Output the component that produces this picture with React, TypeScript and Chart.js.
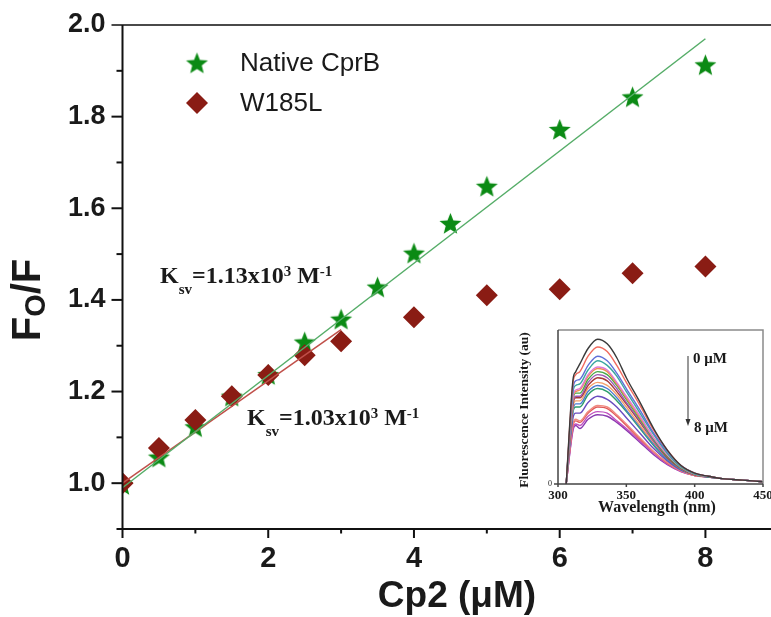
import React, { useEffect, useRef } from 'react';
import { Chart, registerables } from 'chart.js';

Chart.register(...registerables);

// ---------- main plot data ----------
const nativeConc = [0, 0.5, 1, 1.5, 2, 2.5, 3, 3.5, 4, 4.5, 5, 6, 7, 8];
const nativeFF = [0.997, 1.057, 1.123, 1.19, 1.237, 1.308, 1.358, 1.428, 1.502, 1.567, 1.648, 1.772, 1.843, 1.913];
const w185lConc = [0, 0.5, 1, 1.5, 2, 2.5, 3, 4, 5, 6, 7, 8];
const w185lFF = [1.0, 1.077, 1.138, 1.19, 1.236, 1.279, 1.31, 1.362, 1.41, 1.423, 1.458, 1.473];
const nativeFitX = [0, 8];
const nativeFitY = [0.99, 1.97];
const w185lFitX = [0, 3];
const w185lFitY = [1.0, 1.335];
const xTickValues = [0, 2, 4, 6, 8];
const yTickValues = [1.0, 1.2, 1.4, 1.6, 1.8, 2.0];
const legendLabels = ['Native CprB', 'W185L'];

// ---------- inset spectra data ----------
const wavelengths = [306, 311, 313, 316, 322, 329, 336, 343, 350, 360, 370, 380, 390, 400, 410, 420, 435, 450];
const spectra = [
  [0, 68, 73, 78, 88, 94, 91, 82, 69, 53, 36, 22, 12, 7, 5, 3.5, 2.5, 1.5],
  [0, 66, 71, 73, 83, 89, 86, 77, 66, 51, 35, 22, 12, 7, 5, 3.5, 2.5, 1.5],
  [0, 62, 67, 68, 77, 83, 80, 72, 62, 48, 33, 21, 12, 7, 5, 3.5, 2.5, 1.5],
  [0, 60, 64, 65, 74, 80, 77, 70, 60, 46, 32, 20, 11, 6.5, 5, 3.5, 2.5, 1.5],
  [0, 57, 61, 62, 71, 76, 74, 66, 57, 44, 30, 19, 11, 6.5, 5, 3.5, 2.5, 1.5],
  [0, 56, 60, 61, 70, 75, 73, 65, 56, 43, 30, 19, 11, 6.5, 5, 3.5, 2.5, 1.5],
  [0, 55, 59, 59, 68, 73, 71, 64, 55, 42, 29, 18, 10.5, 6.5, 5, 3.5, 2.5, 1.5],
  [0, 53, 57, 57, 66, 71, 69, 62, 53, 41, 28, 18, 10.5, 6.5, 5, 3.5, 2.5, 1.5],
  [0, 52, 56, 56, 64, 69, 67, 60, 52, 40, 28, 17, 10, 6, 5, 3.5, 2.5, 1.5],
  [0, 50, 54, 54, 62, 66, 64, 58, 50, 38, 27, 17, 10, 6, 5, 3.5, 2.5, 1.5],
  [0, 48, 52, 52, 60, 64, 62, 56, 48, 37, 26, 16, 9.5, 6, 5, 3.5, 2.5, 1.5],
  [0, 47, 50, 50, 58, 62, 60, 54, 47, 36, 25, 16, 9.5, 6, 4.5, 3.5, 2.5, 1.5],
  [0, 43, 46, 46, 53, 57, 55, 50, 43, 33, 23, 15, 9, 6, 4.5, 3.5, 2.5, 1.5],
  [0, 39, 42, 41, 47, 51, 50, 45, 39, 30, 21, 14, 8.5, 5.5, 4.5, 3.5, 2.5, 1.5],
  [0, 38, 41, 40, 46, 50, 49, 44, 38, 29, 21, 13.5, 8.5, 5.5, 4.5, 3.5, 2.5, 1.5],
  [0, 36, 39, 38, 44, 47, 46, 41, 36, 28, 20, 13, 8, 5.5, 4.5, 3.5, 2.5, 1.5],
  [0, 35, 38, 36, 42, 45, 44, 40, 35, 27, 19, 12.5, 8, 5.5, 4.5, 3.5, 2.5, 1.5],
];
const spectraColors = [
  '#3a3a3a', '#f06a5e', '#6070d8', '#3aa6a0', '#e07ad8', '#f0904a', '#4aa84a', '#9b59b6',
  '#a83a3a', '#f5a06a', '#4a7bd0', '#2e9e6e', '#6a4cc0', '#f08a80', '#e05a5a', '#c050c0', '#8a3ab0',
];
const insetXTicks = [300, 350, 400, 450];

const STAR_COLOR = '#0b8a14';
const DIAMOND_COLOR = '#8a1c14';
const SANS = "'Liberation Sans', Arial, sans-serif";
const SERIF = "'Liberation Serif', 'Times New Roman', serif";

function makeStar(outer: number, inner: number, color: string) {
  const size = Math.ceil(outer * 2 + 2);
  const c = document.createElement('canvas');
  c.width = size;
  c.height = size;
  const g = c.getContext('2d')!;
  g.beginPath();
  for (let i = 0; i < 10; i++) {
    const r = i % 2 === 0 ? outer : inner;
    const a = -Math.PI / 2 + (i * Math.PI) / 5;
    const px = size / 2 + r * Math.cos(a);
    const py = size / 2 + 1 + r * Math.sin(a);
    if (i === 0) g.moveTo(px, py);
    else g.lineTo(px, py);
  }
  g.closePath();
  g.fillStyle = color;
  g.fill();
  return c;
}

function drawSegments(ctx: CanvasRenderingContext2D, x: number, y: number, segs: [string, number, number][]) {
  let cx = x;
  ctx.textBaseline = 'alphabetic';
  ctx.textAlign = 'left';
  for (const [t, size, dy] of segs) {
    ctx.font = `bold ${size}px ${SERIF}`;
    ctx.fillText(t, cx, y + dy);
    cx += ctx.measureText(t).width;
  }
}

function zeroPadding(s: any) {
  s.paddingTop = 0;
  s.paddingBottom = 0;
  s.paddingLeft = 0;
  s.paddingRight = 0;
}

export default function App() {
  const mainRef = useRef<HTMLCanvasElement>(null);
  const insetRef = useRef<HTMLCanvasElement>(null);

  useEffect(() => {
    const star = makeStar(11.5, 5, STAR_COLOR);

    const mainDecor = {
      id: 'mainDecor',
      afterDraw(chart: any) {
        const ctx = chart.ctx as CanvasRenderingContext2D;
        const { left, right, top, bottom } = chart.chartArea;
        const xs = chart.scales.x;
        const ys = chart.scales.y;
        ctx.save();
        ctx.lineCap = 'butt';
        ctx.strokeStyle = '#4a4a4a';
        ctx.lineWidth = 2;
        ctx.beginPath();
        ctx.moveTo(left - 11, top);
        ctx.lineTo(right, top);
        ctx.stroke();
        ctx.strokeStyle = '#111';
        ctx.beginPath();
        ctx.moveTo(left, top);
        ctx.lineTo(left, bottom + 9);
        ctx.moveTo(left - 6, bottom);
        ctx.lineTo(right, bottom);
        ctx.stroke();
        for (let k = 10; k <= 19; k++) {
          const py = ys.getPixelForValue(k / 10);
          const len = k % 2 === 0 ? 11 : 6;
          ctx.beginPath();
          ctx.moveTo(left - len, py);
          ctx.lineTo(left, py);
          ctx.stroke();
        }
        for (let k = 1; k <= 8; k++) {
          const px = xs.getPixelForValue(k);
          const len = k % 2 === 0 ? 9 : 4.5;
          ctx.beginPath();
          ctx.moveTo(px, bottom);
          ctx.lineTo(px, bottom + len);
          ctx.stroke();
        }
        // y title F_O/F
        ctx.fillStyle = '#1a1a1a';
        ctx.save();
        ctx.translate(26, 300);
        ctx.rotate(-Math.PI / 2);
        ctx.textBaseline = 'alphabetic';
        ctx.textAlign = 'left';
        const big = `bold 40px ${SANS}`;
        const small = `bold 29px ${SANS}`;
        ctx.font = big;
        const wF = ctx.measureText('F').width;
        const wSlashF = ctx.measureText('/F').width;
        ctx.font = small;
        const wO = ctx.measureText('O').width;
        const total = wF + wO + wSlashF;
        let cx = -total / 2;
        ctx.font = big;
        ctx.fillText('F', cx, 14);
        cx += wF;
        ctx.font = small;
        ctx.fillText('O', cx, 19);
        cx += wO;
        ctx.font = big;
        ctx.fillText('/F', cx, 14);
        ctx.restore();
        // x title
        ctx.font = `bold 37px ${SANS}`;
        ctx.textAlign = 'center';
        ctx.textBaseline = 'middle';
        ctx.fillText('Cp2 (\u03bcM)', 457, 597);
        // legend
        ctx.drawImage(star, 197 - star.width / 2, 63 - star.height / 2);
        ctx.fillStyle = DIAMOND_COLOR;
        ctx.beginPath();
        ctx.moveTo(197, 92);
        ctx.lineTo(208, 103);
        ctx.lineTo(197, 114);
        ctx.lineTo(186, 103);
        ctx.closePath();
        ctx.fill();
        ctx.fillStyle = '#1a1a1a';
        ctx.font = `26px ${SANS}`;
        ctx.textAlign = 'left';
        ctx.textBaseline = 'middle';
        ctx.fillText(legendLabels[0], 240, 64);
        ctx.fillText(legendLabels[1], 240, 104);
        // annotations
        drawSegments(ctx, 160, 283, [
          ['K', 24, 0], ['sv', 15, 11], ['=1.13x10', 24, 0], ['3', 15, -7], [' M', 24, 0], ['-1', 15, -7],
        ]);
        drawSegments(ctx, 247, 425, [
          ['K', 24, 0], ['sv', 15, 11], ['=1.03x10', 24, 0], ['3', 15, -7], [' M', 24, 0], ['-1', 15, -7],
        ]);
        ctx.restore();
      },
    };

    const main = new Chart(mainRef.current!, {
      type: 'scatter',
      data: {
        datasets: [
          {
            label: 'Native fit',
            type: 'line',
            data: nativeFitX.map((x, i) => ({ x, y: nativeFitY[i] })),
            borderColor: '#55ad68',
            borderWidth: 1.5,
            pointRadius: 0,
            order: 0,
          },
          {
            label: 'W185L fit',
            type: 'line',
            data: w185lFitX.map((x, i) => ({ x, y: w185lFitY[i] })),
            borderColor: '#c0504a',
            borderWidth: 1.5,
            pointRadius: 0,
            order: 0,
          },
          {
            label: legendLabels[1],
            data: w185lConc.map((x, i) => ({ x, y: w185lFF[i] })),
            pointStyle: 'rectRot',
            pointRadius: 11,
            backgroundColor: DIAMOND_COLOR,
            borderColor: DIAMOND_COLOR,
            borderWidth: 0,
            order: 1,
          },
          {
            label: legendLabels[0],
            data: nativeConc.map((x, i) => ({ x, y: nativeFF[i] })),
            pointStyle: star as any,
            pointRadius: 12,
            backgroundColor: STAR_COLOR,
            borderColor: STAR_COLOR,
            order: 2,
          },
        ],
      },
      options: {
        animation: false,
        responsive: true,
        maintainAspectRatio: false,
        layout: { autoPadding: false, padding: { top: 25, right: 0, left: 0, bottom: 0 } },
        plugins: { legend: { display: false }, tooltip: { enabled: false } },
        scales: {
          x: {
            type: 'linear',
            min: 0,
            max: 8.9,
            grid: { display: false, drawTicks: false },
            border: { display: false },
            afterFit: (s: any) => { s.height = 88; zeroPadding(s); },
            afterBuildTicks: (s: any) => { s.ticks = xTickValues.map((v) => ({ value: v })); },
            ticks: {
              padding: 13,
              color: '#1a1a1a',
              font: { family: SANS, size: 29, weight: 'bold' },
              maxRotation: 0,
              autoSkip: false,
              callback: (v: any) => String(v),
            },
          },
          y: {
            type: 'linear',
            min: 0.9,
            max: 2.0,
            grid: { display: false, drawTicks: false },
            border: { display: false },
            afterFit: (s: any) => { s.width = 122.5; zeroPadding(s); },
            afterBuildTicks: (s: any) => { s.ticks = yTickValues.map((v) => ({ value: v })); },
            ticks: {
              padding: 17,
              color: '#1a1a1a',
              font: { family: SANS, size: 27, weight: 'bold' },
              autoSkip: false,
              callback: (v: any) => Number(v).toFixed(1),
            },
          },
        },
      },
      plugins: [mainDecor],
    } as any);

    const insetDecor = {
      id: 'insetDecor',
      afterDraw(chart: any) {
        const ctx = chart.ctx as CanvasRenderingContext2D;
        const { left, right, top, bottom } = chart.chartArea;
        const xs = chart.scales.x;
        ctx.save();
        ctx.lineWidth = 1.5;
        ctx.strokeStyle = '#8a8a8a';
        ctx.beginPath();
        ctx.moveTo(left, top);
        ctx.lineTo(right, top);
        ctx.lineTo(right, bottom);
        ctx.stroke();
        ctx.strokeStyle = '#444';
        ctx.beginPath();
        ctx.moveTo(left, top);
        ctx.lineTo(left, bottom);
        ctx.lineTo(right, bottom);
        ctx.moveTo(left - 4, bottom);
        ctx.lineTo(left, bottom);
        ctx.stroke();
        for (const v of insetXTicks) {
          const px = xs.getPixelForValue(v);
          ctx.beginPath();
          ctx.moveTo(px, bottom);
          ctx.lineTo(px, bottom + 3);
          ctx.stroke();
        }
        ctx.fillStyle = '#1a1a1a';
        ctx.textAlign = 'center';
        ctx.textBaseline = 'middle';
        ctx.font = `bold 16px ${SERIF}`;
        ctx.fillText('Wavelength (nm)', 152, 183);
        ctx.save();
        ctx.translate(20, 85);
        ctx.rotate(-Math.PI / 2);
        ctx.font = `bold 13.5px ${SERIF}`;
        ctx.fillText('Fluorescence Intensity (au)', 0, 0);
        ctx.restore();
        // arrow
        ctx.strokeStyle = '#555';
        ctx.lineWidth = 1.2;
        ctx.beginPath();
        ctx.moveTo(183, 31);
        ctx.lineTo(183, 96);
        ctx.stroke();
        ctx.fillStyle = '#333';
        ctx.beginPath();
        ctx.moveTo(180.5, 94);
        ctx.lineTo(185.5, 94);
        ctx.lineTo(183, 101);
        ctx.closePath();
        ctx.fill();
        ctx.fillStyle = '#1a1a1a';
        ctx.textAlign = 'left';
        ctx.font = `bold 15px ${SERIF}`;
        ctx.fillText('0 \u03bcM', 188, 34);
        ctx.fillText('8 \u03bcM', 189, 103);
        ctx.restore();
      },
    };

    const inset = new Chart(insetRef.current!, {
      type: 'line',
      data: {
        datasets: spectra.map((s, i) => ({
          label: `c${i}`,
          data: wavelengths.map((w, j) => ({ x: w, y: s[j] })),
          borderColor: spectraColors[i],
          borderWidth: 1.4,
          pointRadius: 0,
          cubicInterpolationMode: 'monotone',
          fill: false,
        })),
      },
      options: {
        animation: false,
        responsive: true,
        maintainAspectRatio: false,
        layout: { autoPadding: false, padding: { top: 5, right: 8, left: 0, bottom: 0 } },
        plugins: { legend: { display: false }, tooltip: { enabled: false } },
        scales: {
          x: {
            type: 'linear',
            min: 300,
            max: 450,
            grid: { display: false, drawTicks: false },
            border: { display: false },
            afterFit: (s: any) => { s.height = 36; zeroPadding(s); },
            afterBuildTicks: (s: any) => { s.ticks = insetXTicks.map((v) => ({ value: v })); },
            ticks: {
              padding: 4,
              color: '#1a1a1a',
              font: { family: SERIF, size: 13, weight: 'bold' },
              maxRotation: 0,
              autoSkip: false,
              callback: (v: any) => String(v),
            },
          },
          y: {
            type: 'linear',
            min: 0,
            max: 100,
            grid: { display: false, drawTicks: false },
            border: { display: false },
            afterFit: (s: any) => { s.width = 53; zeroPadding(s); },
            afterBuildTicks: (s: any) => { s.ticks = [{ value: 0 }]; },
            ticks: {
              padding: 6,
              color: '#1a1a1a',
              font: { family: SERIF, size: 8 },
              callback: () => '0',
            },
          },
        },
      },
      plugins: [insetDecor],
    } as any);

    return () => {
      main.destroy();
      inset.destroy();
    };
  }, []);

  return (
    <div style={{ position: 'absolute', left: 0, top: 0, width: 771, height: 617, background: '#fff', overflow: 'hidden' }}>
      <div style={{ position: 'absolute', left: 0, top: 0, width: 771, height: 617 }}>
        <canvas ref={mainRef} />
      </div>
      <div style={{ position: 'absolute', left: 505, top: 325, width: 266, height: 195 }}>
        <canvas ref={insetRef} />
      </div>
    </div>
  );
}
